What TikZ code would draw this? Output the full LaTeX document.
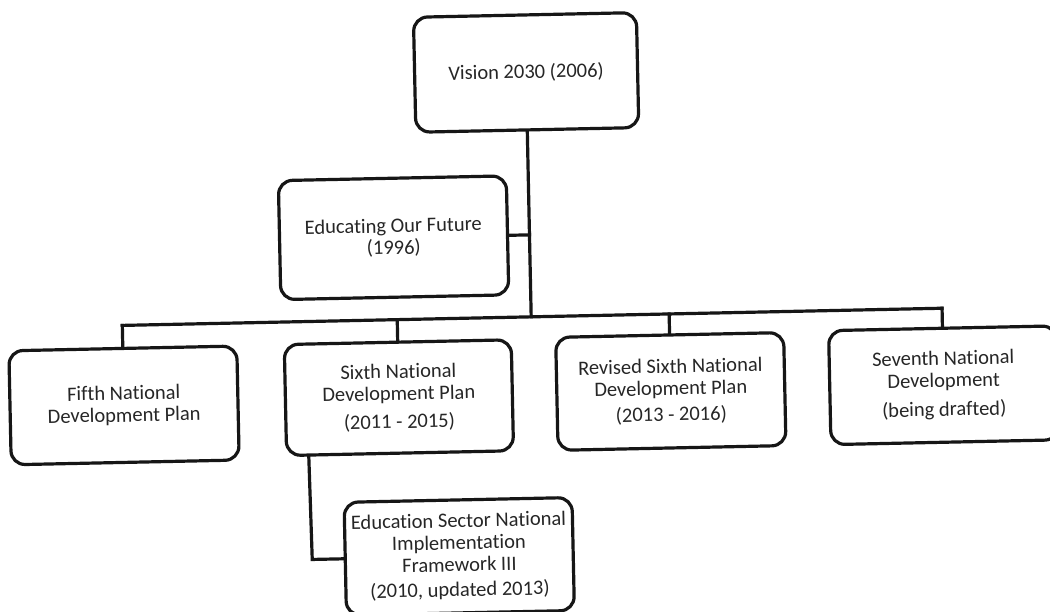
\documentclass[tikz,border=0pt]{standalone}
\usepackage{fontspec}
\setmainfont{Carlito}[Ligatures=NoCommon]
\usetikzlibrary{calc}
\definecolor{ink}{HTML}{161616}
\definecolor{txt}{HTML}{262626}
\begin{document}
\begin{tikzpicture}[x=1pt,y=-1pt,
  box/.style={draw=ink, line width=3.2pt, rounded corners=14pt, fill=white,
    text=txt, align=center, inner sep=2pt,
    font=\fontsize{20.5}{22}\selectfont,
    minimum width=228pt, minimum height=114pt},
  conn/.style={draw=ink, line width=3.2pt, line cap=rect, line join=miter}]
\useasboundingbox (0,0) rectangle (1050,612);
\clip (0,0) rectangle (1050,612);
\fill[white] (0,0) rectangle (1050,612);
\begin{scope}[rotate around={1.2:(525,306)}, transform shape]
  \node[box, minimum width=223pt, minimum height=115pt] (vis) at (531,72.5) {Vision 2030 (2006)};
  \node[box, minimum height=119pt] (edu) at (395,235) {Educating Our Future\\(1996)};
  \node[box] (fifth) at (122,397) {Fifth National\\Development Plan};
  \node[box, minimum width=227pt, minimum height=111pt] (sixth) at (397,395) {Sixth National\\Development Plan\\[6pt](2011 - 2015)};
  \node[box, minimum height=113pt] (rev) at (669,394.5) {Revised Sixth National\\Development Plan\\[4pt](2013 - 2016)};
  \node[box] (sev) at (942,394) {Seventh National\\Development\\[7pt](being drafted)};
  \node[box, minimum height=113pt] (esn) at (454,555) {Education Sector National\\Implementation\\Framework III\\[3pt](2010, updated 2013)};

  \coordinate (j)  at (531,317);
  \coordinate (je) at (531,235);
  \coordinate (b1) at (122,317);
  \coordinate (b2) at (397,317);
  \coordinate (b3) at (669,317);
  \coordinate (b4) at (942,317);
  \coordinate (s0) at ($(sixth.south west)!0.1035!(sixth.south east)$);
  \coordinate (s1) at (307,555);

  \draw[conn] (vis.south) -- (j);
  \draw[conn] (edu.east) -- (je);
  \draw[conn] (b1) -- (b4);
  \draw[conn] (b1) -- (fifth.north);
  \draw[conn] (b2) -- (sixth.north);
  \draw[conn] (b3) -- (rev.north);
  \draw[conn] (b4) -- (sev.north);
  \draw[conn] (s0) -- (s1) -- (esn.west);
\end{scope}
\end{tikzpicture}
\end{document}
